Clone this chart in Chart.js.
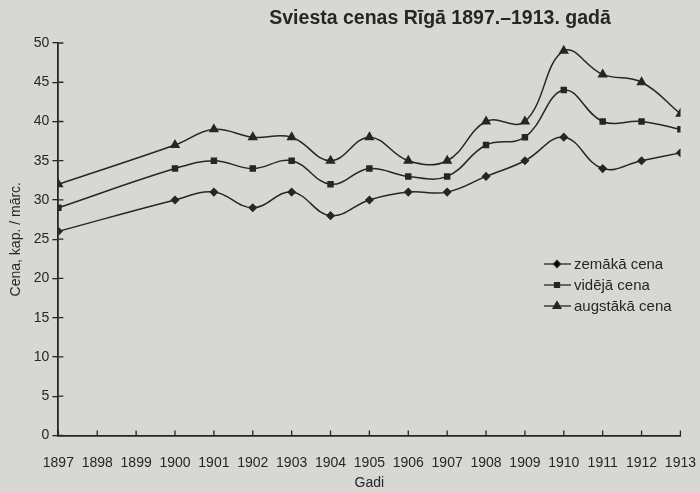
<!DOCTYPE html>
<html>
<head>
<meta charset="utf-8">
<script src="https://cdn.jsdelivr.net/npm/chart.js@4"></script>
<style>
  html, body { margin: 0; padding: 0; background: #d7d7d3; }
  #wrap { width: 700px; height: 492px; }
</style>
</head>
<body>
<div id="wrap"><canvas id="butterChart" width="700" height="492"></canvas></div>
<script>
// Butter prices in Riga (kap. per mārciņa), no data for 1898-1899
const years = [1897, 1900, 1901, 1902, 1903, 1904, 1905, 1906, 1907, 1908, 1909, 1910, 1911, 1912, 1913];
const lowPrice = [26, 30, 31, 29, 31, 28, 30, 31, 31, 33, 35, 38, 34, 35, 36];
const avgPrice = [29, 34, 35, 34, 35, 32, 34, 33, 33, 37, 38, 44, 40, 40, 39];
const highPrice = [32, 37, 39, 38, 38, 35, 38, 35, 35, 40, 40, 49, 46, 45, 41];
const seriesNames = ['zemākā cena', 'vidējā cena', 'augstākā cena'];

const ink = '#262626';
const fontFamily = '"Liberation Sans", Arial, sans-serif';
const toPoints = vals => vals.map((v, i) => ({ x: years[i], y: v }));

// title drawn off-centre like the printed original
const titlePlugin = {
    id: 'printTitle',
    afterDraw(chart) {
        const ctx = chart.ctx;
        ctx.save();
        ctx.fillStyle = ink;
        ctx.font = 'bold 19.5px ' + fontFamily;
        ctx.textAlign = 'center';
        ctx.textBaseline = 'middle';
        ctx.fillText('Sviesta cenas Rīgā 1897.–1913. gadā', 440, 19);
        ctx.restore();
    }
};

// inner tick marks: y ticks cross the axis, x ticks point up
const innerTicks = {
    id: 'innerTicks',
    afterDraw(chart) {
        const ctx = chart.ctx;
        const xs = chart.scales.x, ys = chart.scales.y;
        ctx.save();
        ctx.strokeStyle = ink;
        ctx.lineWidth = 1.3;
        ctx.beginPath();
        ys.ticks.forEach(t => {
            const py = ys.getPixelForValue(t.value);
            ctx.moveTo(xs.left, py);
            ctx.lineTo(xs.left + 5, py);
        });
        xs.ticks.forEach(t => {
            const px = xs.getPixelForValue(t.value);
            ctx.moveTo(px, ys.bottom);
            ctx.lineTo(px, ys.bottom - 5);
        });
        ctx.stroke();
        ctx.restore();
    }
};

// legend with a short line and the marker in the middle
const legendPlugin = {
    id: 'lineLegend',
    afterDraw(chart) {
        const ctx = chart.ctx;
        const x0 = 544;
        ctx.save();
        ctx.font = '15px ' + fontFamily;
        ctx.textBaseline = 'middle';
        chart.data.datasets.forEach((ds, i) => {
            const y = 264 + i * 21;
            ctx.strokeStyle = ink;
            ctx.lineWidth = 1.3;
            ctx.beginPath();
            ctx.moveTo(x0, y);
            ctx.lineTo(x0 + 27, y);
            ctx.stroke();
            Chart.helpers.drawPoint(ctx, {
                pointStyle: ds.pointStyle,
                radius: ds.pointRadius,
                borderWidth: 1
            }, x0 + 13, y);
            ctx.fillStyle = ink;
            ctx.fillText(ds.label, x0 + 30, y + 1);
        });
        ctx.restore();
    }
};

const ctx = document.getElementById('butterChart').getContext('2d');
new Chart(ctx, {
    type: 'line',
    data: {
        datasets: [
            { label: seriesNames[0], data: toPoints(lowPrice), pointStyle: 'rectRot', pointRadius: 3.5 },
            { label: seriesNames[1], data: toPoints(avgPrice), pointStyle: 'rect', pointRadius: 3.5 },
            { label: seriesNames[2], data: toPoints(highPrice), pointStyle: 'triangle', pointRadius: 4.5 }
        ].map(ds => Object.assign(ds, {
            borderColor: ink,
            backgroundColor: ink,
            pointBackgroundColor: ink,
            pointBorderColor: ink,
            borderWidth: 1.5,
            tension: 0.4
        }))
    },
    options: {
        responsive: false,
        animation: false,
        layout: { padding: { top: 43, right: 16, left: 8, bottom: 0 } },
        plugins: {
            legend: { display: false },
            tooltip: { enabled: false }
        },
        scales: {
            x: {
                type: 'linear',
                min: 1897,
                max: 1913,
                ticks: {
                    stepSize: 1,
                    color: ink,
                    font: { size: 14, family: fontFamily },
                    callback: v => String(v),
                    maxRotation: 0,
                    autoSkip: false,
                    padding: 4
                },
                // invisible outer ticks only push the labels down
                grid: { drawOnChartArea: false, tickLength: 15, tickColor: 'rgba(0,0,0,0)' },
                border: { color: ink, width: 1.8 },
                title: {
                    display: true,
                    text: 'Gadi',
                    color: ink,
                    font: { size: 14, family: fontFamily },
                    padding: { top: 0, bottom: 0 }
                }
            },
            y: {
                min: 0,
                max: 50,
                ticks: {
                    stepSize: 5,
                    color: ink,
                    font: { size: 14, family: fontFamily },
                    padding: 3
                },
                grid: { drawOnChartArea: false, tickLength: 6, color: ink, lineWidth: 1.3 },
                border: { color: ink, width: 1.8 },
                title: {
                    display: true,
                    text: 'Cena, kap. / mārc.',
                    color: ink,
                    font: { size: 14, family: fontFamily },
                    padding: { top: 0, bottom: 6 }
                }
            }
        }
    },
    plugins: [titlePlugin, innerTicks, legendPlugin]
});
</script>
</body>
</html>
